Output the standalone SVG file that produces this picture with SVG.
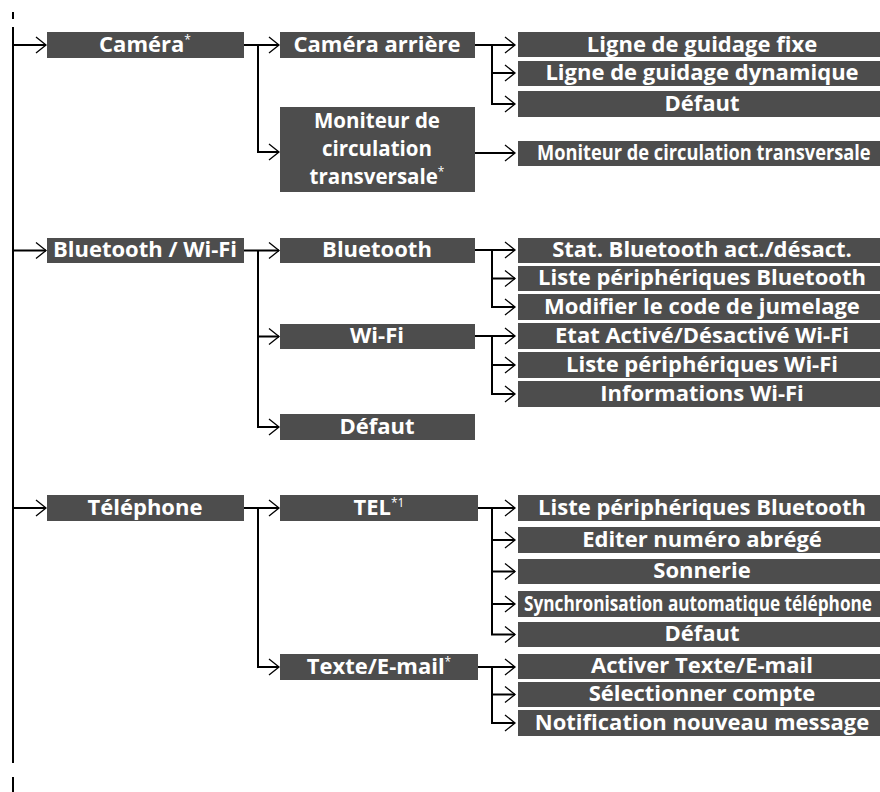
<svg xmlns="http://www.w3.org/2000/svg" width="880" height="792" viewBox="0 0 880 792">
<style>
.b{fill:#4d4d4d}
.t{fill:#fff;font-family:"Open Sans","DejaVu Sans",sans-serif;font-weight:700;font-size:22px;text-anchor:middle}
.m{font-size:20.5px}
.c{fill:#fff;font-family:"Open Sans","DejaVu Sans",sans-serif;font-weight:700;font-size:21px}
.s{font-size:12px;font-weight:400}
.ln{fill:none;stroke:#000;stroke-width:2}
.ar{marker-end:url(#ah)}
</style>
<defs>
<marker id="ah" markerUnits="userSpaceOnUse" markerWidth="14" markerHeight="20" viewBox="-12 -10 14 20" refX="0" refY="0" orient="auto">
<path d="M-10,-8 L0,0 L-10,8" fill="none" stroke="#000" stroke-width="1.3"/>
</marker>
</defs>
<g id="connectors">
<path class="ln" d="M13,12 V19"/>
<path class="ln" d="M13,27 V763"/>
<path class="ln" d="M13,777 V792"/>
<path class="ln ar" d="M13,45 H46"/>
<path class="ln ar" d="M13,250.5 H46"/>
<path class="ln ar" d="M13,508 H46"/>
<path class="ln ar" d="M244,45 H279"/>
<path class="ln ar" d="M258,45 V152 H279"/>
<path class="ln ar" d="M475,45 H515"/>
<path class="ln ar" d="M492,45 V104 H515"/>
<path class="ln ar" d="M492,73 H515"/>
<path class="ln ar" d="M475,153 H515"/>
<path class="ln ar" d="M244,250.5 H279"/>
<path class="ln ar" d="M258,250.5 V427 H279"/>
<path class="ln ar" d="M258,336.5 H279"/>
<path class="ln ar" d="M475,250 H515"/>
<path class="ln ar" d="M492,250 V307 H515"/>
<path class="ln ar" d="M492,278.5 H515"/>
<path class="ln ar" d="M475,336 H515"/>
<path class="ln ar" d="M492,336 V394 H515"/>
<path class="ln ar" d="M492,365 H515"/>
<path class="ln ar" d="M244,508 H279"/>
<path class="ln ar" d="M258,508 V667 H279"/>
<path class="ln ar" d="M475,508 H515"/>
<path class="ln ar" d="M492,508 V634.5 H515"/>
<path class="ln ar" d="M492,540 H515"/>
<path class="ln ar" d="M492,571.5 H515"/>
<path class="ln ar" d="M492,604 H515"/>
<path class="ln ar" d="M475,667 H515"/>
<path class="ln ar" d="M492,667 V723 H515"/>
<path class="ln ar" d="M492,694.5 H515"/>
</g>
<g id="camera"><rect class="b" x="47" y="32" width="197" height="26"/><text class="t" x="145" y="52">Caméra<tspan class="s" dy="-8">*</tspan></text></g>
<g id="camera-arriere"><rect class="b" x="280" y="32" width="195" height="26"/><text class="t" x="377" y="52">Caméra arrière</text></g>
<g id="ligne-fixe"><rect class="b" x="518" y="32" width="362" height="25"/><text class="t" x="702" y="52">Ligne de guidage fixe</text></g>
<g id="ligne-dyn"><rect class="b" x="518" y="61" width="362" height="25"/><text class="t" x="702" y="80">Ligne de guidage dynamique</text></g>
<g id="cam-defaut"><rect class="b" x="518" y="91" width="362" height="26"/><text class="t" x="702" y="111">Défaut</text></g>
<g id="moniteur"><rect class="b" x="280" y="107" width="195" height="85"/><text class="t m" x="377" y="128">Moniteur de</text><text class="t m" x="377" y="156">circulation</text><text class="t m" x="377" y="184">transversale<tspan class="s" dy="-8">*</tspan></text></g>
<g id="moniteur-ct"><rect class="b" x="518" y="141" width="362" height="25"/><text class="c" transform="translate(537,160) scale(0.76,1)" x="0" y="0" textLength="439" lengthAdjust="spacingAndGlyphs">Moniteur de circulation transversale</text></g>
<g id="bt-wifi"><rect class="b" x="47" y="238" width="197" height="25"/><text class="t" x="145" y="257">Bluetooth / Wi-Fi</text></g>
<g id="bluetooth"><rect class="b" x="280" y="238" width="195" height="25"/><text class="t" x="377" y="257">Bluetooth</text></g>
<g id="stat-bt"><rect class="b" x="518" y="238" width="362" height="25"/><text class="t" x="702" y="257">Stat. Bluetooth act./désact.</text></g>
<g id="liste-bt"><rect class="b" x="518" y="266" width="362" height="25"/><text class="t" x="702" y="285">Liste périphériques Bluetooth</text></g>
<g id="modifier"><rect class="b" x="518" y="294" width="362" height="26"/><text class="t" x="702" y="314">Modifier le code de jumelage</text></g>
<g id="wifi"><rect class="b" x="280" y="324" width="195" height="25"/><text class="t" x="377" y="343">Wi-Fi</text></g>
<g id="etat-wifi"><rect class="b" x="518" y="323" width="362" height="26"/><text class="t" x="702" y="343">Etat Activé/Désactivé Wi-Fi</text></g>
<g id="liste-wifi"><rect class="b" x="518" y="352" width="362" height="26"/><text class="t" x="702" y="372">Liste périphériques Wi-Fi</text></g>
<g id="info-wifi"><rect class="b" x="518" y="381" width="362" height="26"/><text class="t" x="702" y="401">Informations Wi-Fi</text></g>
<g id="bt-defaut"><rect class="b" x="280" y="414" width="195" height="26"/><text class="t" x="377" y="434">Défaut</text></g>
<g id="telephone"><rect class="b" x="47" y="495" width="197" height="26"/><text class="t" x="145" y="515">Téléphone</text></g>
<g id="tel"><rect class="b" x="280" y="495" width="198" height="26"/><text class="t" x="379" y="515">TEL<tspan class="s" dy="-8">*1</tspan></text></g>
<g id="tel-liste-bt"><rect class="b" x="518" y="495" width="362" height="26"/><text class="t" x="702" y="515">Liste périphériques Bluetooth</text></g>
<g id="editer"><rect class="b" x="518" y="527" width="362" height="26"/><text class="t" x="702" y="547">Editer numéro abrégé</text></g>
<g id="sonnerie"><rect class="b" x="518" y="559" width="362" height="25"/><text class="t" x="702" y="578">Sonnerie</text></g>
<g id="synchro"><rect class="b" x="518" y="591" width="362" height="26"/><text class="c" transform="translate(524,611) scale(0.77,1)" x="0" y="0" textLength="452" lengthAdjust="spacingAndGlyphs">Synchronisation automatique téléphone</text></g>
<g id="tel-defaut"><rect class="b" x="518" y="622" width="362" height="25"/><text class="t" x="702" y="641">Défaut</text></g>
<g id="texte"><rect class="b" x="280" y="654" width="198" height="26"/><text class="t" x="379" y="674">Texte/E-mail<tspan class="s" dy="-8">*</tspan></text></g>
<g id="activer"><rect class="b" x="518" y="654" width="362" height="25"/><text class="t" x="702" y="673">Activer Texte/E-mail</text></g>
<g id="selectionner"><rect class="b" x="518" y="682" width="362" height="25"/><text class="t" x="702" y="701">Sélectionner compte</text></g>
<g id="notification"><rect class="b" x="518" y="710" width="362" height="26"/><text class="t" x="702" y="730">Notification nouveau message</text></g>
</svg>
